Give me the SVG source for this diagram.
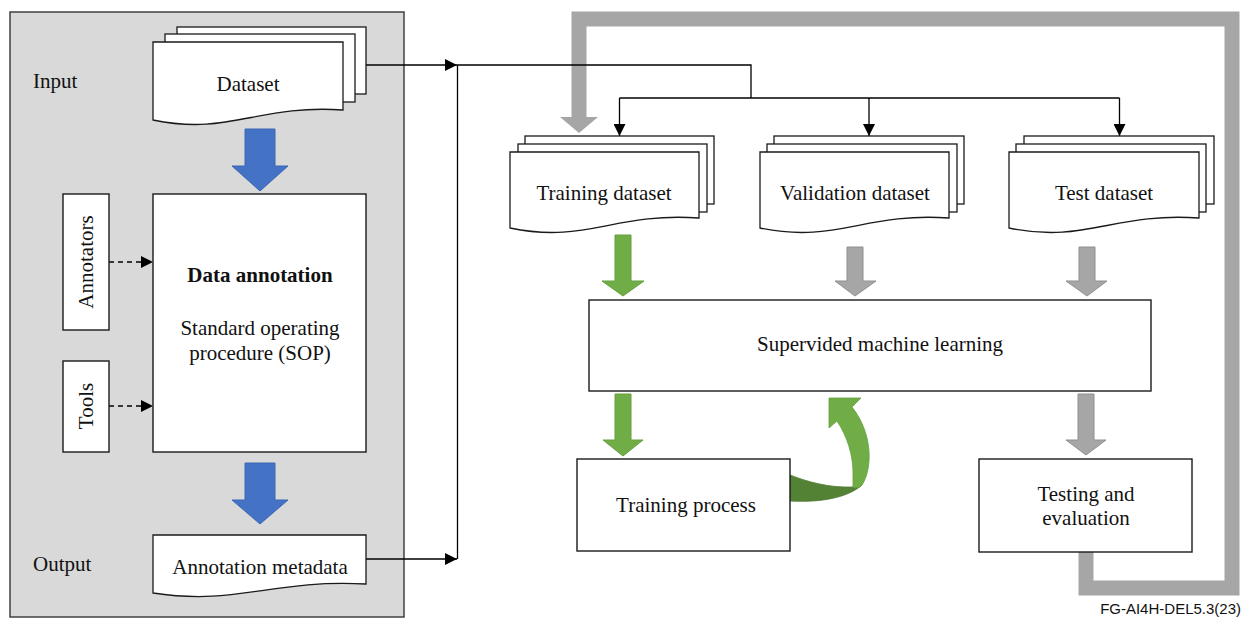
<svg xmlns="http://www.w3.org/2000/svg" width="1243" height="626" viewBox="0 0 1243 626">
<defs>
<style>
.t{font-family:"Liberation Serif","Times New Roman",serif;font-size:21px;fill:#111;}
.b{font-weight:bold;}
.m{text-anchor:middle;}
.box{fill:#fff;stroke:#1a1a1a;stroke-width:1.4;}
.doc{fill:#fff;stroke:#1a1a1a;stroke-width:1.3;}
.ln{fill:none;stroke:#000;stroke-width:1.3;}
.blue{fill:#4472C4;stroke:#3b66b3;stroke-width:1;}
.green{fill:#70AD47;stroke:#64a03d;stroke-width:1;}
.gray{fill:#A6A6A6;stroke:#8f8f8f;stroke-width:1;}
</style>
<marker id="ah" viewBox="0 0 12 12" refX="12" refY="6" markerWidth="12" markerHeight="12" markerUnits="userSpaceOnUse" orient="auto"><path d="M0,0 L12,6 L0,12 Z" fill="#000"/></marker>
</defs>
<rect width="1243" height="626" fill="#fff"/>

<g id="panel">
<rect x="10" y="12" width="394" height="605" fill="#D9D9D9" stroke="#404040" stroke-width="1.5"/>
<text class="t" x="33" y="88">Input</text>
<text class="t" x="33" y="571">Output</text>
</g>

<g id="feedback">
<path d="M1086,552 V588 H1232 V19 H579 V118" fill="none" stroke="#A6A6A6" stroke-width="15" stroke-linejoin="miter"/>
<polygon points="560,117 598,117 579,133" fill="#A6A6A6"/>
</g>

<g id="connectors">
<line class="ln" x1="366" y1="65" x2="457" y2="65" marker-end="url(#ah)"/>
<line class="ln" x1="366" y1="559" x2="457" y2="559" marker-end="url(#ah)"/>
<line class="ln" x1="457.5" y1="65" x2="457.5" y2="559"/>
<polyline class="ln" points="457,65 751,65 751,98"/>
<line class="ln" x1="619.5" y1="98" x2="1119.5" y2="98"/>
<line class="ln" x1="619.5" y1="98" x2="619.5" y2="136" marker-end="url(#ah)"/>
<line class="ln" x1="869" y1="98" x2="869" y2="136" marker-end="url(#ah)"/>
<line class="ln" x1="1119.5" y1="98" x2="1119.5" y2="136" marker-end="url(#ah)"/>
<line class="ln" x1="109" y1="262" x2="153" y2="262" stroke-dasharray="5 4" marker-end="url(#ah)"/>
<line class="ln" x1="109" y1="406" x2="153" y2="406" stroke-dasharray="5 4" marker-end="url(#ah)"/>
<polygon class="blue" points="245,129 275,129 275,166 288,166 260,191 232,166 245,166"/>
<polygon class="blue" points="245,463 275,463 275,500 288,500 260,524 232,500 245,500"/>
<polygon class="green" points="615,235 631,235 631,281 644,281 623,296 602,281 615,281"/>
<polygon class="gray" points="847,247 863,247 863,281 876,281 855,296 835,281 847,281"/>
<polygon class="gray" points="1079,247 1095,247 1095,281 1107,281 1087,296 1066,281 1079,281"/>
<polygon class="green" points="615,394 631,394 631,440 643,440 623,456 603,440 615,440"/>
<polygon class="gray" points="1078,394 1094,394 1094,440 1106,440 1086,455 1066,440 1078,440"/>
<path d="M790,475 C808,482 830,488 853,487 L862,485 C850,496 825,503 790,501 Z" fill="#548235" stroke="#4d7a30" stroke-width="0.8"/>
<path d="M852,407 L861,398 L829,398 L829,428 L837,421 C847,436 853,455 853,472 L853,487 C857,489 860,487 862,485 C872,470 874,435 852,407 Z" fill="#70AD47" stroke="#64a03d" stroke-width="0.8"/>
</g>

<g id="dataset">
<rect class="doc" x="177" y="27" width="189" height="67"/>
<rect class="doc" x="165" y="34" width="190" height="68"/>
<path class="doc" d="M153,42 H343 V110 C258,104 229,136 153,120 Z"/>
<text class="t m" x="248" y="91">Dataset</text>
</g>

<g id="annotators">
<rect class="box" x="63" y="194" width="46" height="136"/>
<text class="t m" transform="translate(93,262) rotate(-90)">Annotators</text>
</g>

<g id="tools">
<rect class="box" x="63" y="361" width="46" height="91"/>
<text class="t m" transform="translate(93,406) rotate(-90)">Tools</text>
</g>

<g id="data-annotation">
<rect class="box" x="153" y="194" width="213" height="258"/>
<text class="t b m" x="260" y="282">Data annotation</text>
<text class="t m" x="260" y="335">Standard operating</text>
<text class="t m" x="260" y="360">procedure (SOP)</text>
</g>

<g id="annotation-metadata">
<path class="doc" d="M153,535 H366 V584 C270,579 238,606 153,593 Z"/>
<text class="t m" x="260" y="574">Annotation metadata</text>
</g>

<g id="training-dataset">
<rect class="doc" x="525" y="136" width="189" height="68"/>
<rect class="doc" x="518" y="144" width="189" height="68"/>
<path class="doc" d="M510,152 H699 V218 C614,212 586,244 510,228 Z"/>
<text class="t m" x="604" y="200">Training dataset</text>
</g>

<g id="validation-dataset">
<rect class="doc" x="774" y="136" width="190" height="68"/>
<rect class="doc" x="767" y="144" width="190" height="68"/>
<path class="doc" d="M760,152 H949 V218 C864,212 836,244 760,228 Z"/>
<text class="t m" x="855" y="200">Validation dataset</text>
</g>

<g id="test-dataset">
<rect class="doc" x="1024" y="136" width="190" height="68"/>
<rect class="doc" x="1016" y="144" width="190" height="68"/>
<path class="doc" d="M1009,152 H1199 V218 C1114,212 1085,244 1009,228 Z"/>
<text class="t m" x="1104" y="200">Test dataset</text>
</g>

<g id="supervised-ml">
<rect class="box" x="589" y="300" width="562" height="91"/>
<text class="t m" x="880" y="351">Supervided machine learning</text>
</g>

<g id="training-process">
<rect class="box" x="577" y="459" width="213" height="92"/>
<text class="t m" x="686" y="512">Training process</text>
</g>

<g id="testing-evaluation">
<rect class="box" x="979" y="459" width="213" height="93"/>
<text class="t m" x="1086" y="501">Testing and</text>
<text class="t m" x="1086" y="525">evaluation</text>
</g>

<text x="1241" y="614" font-family="'Liberation Sans',Arial,sans-serif" font-size="15" text-anchor="end" fill="#111">FG-AI4H-DEL5.3(23)</text>
</svg>
